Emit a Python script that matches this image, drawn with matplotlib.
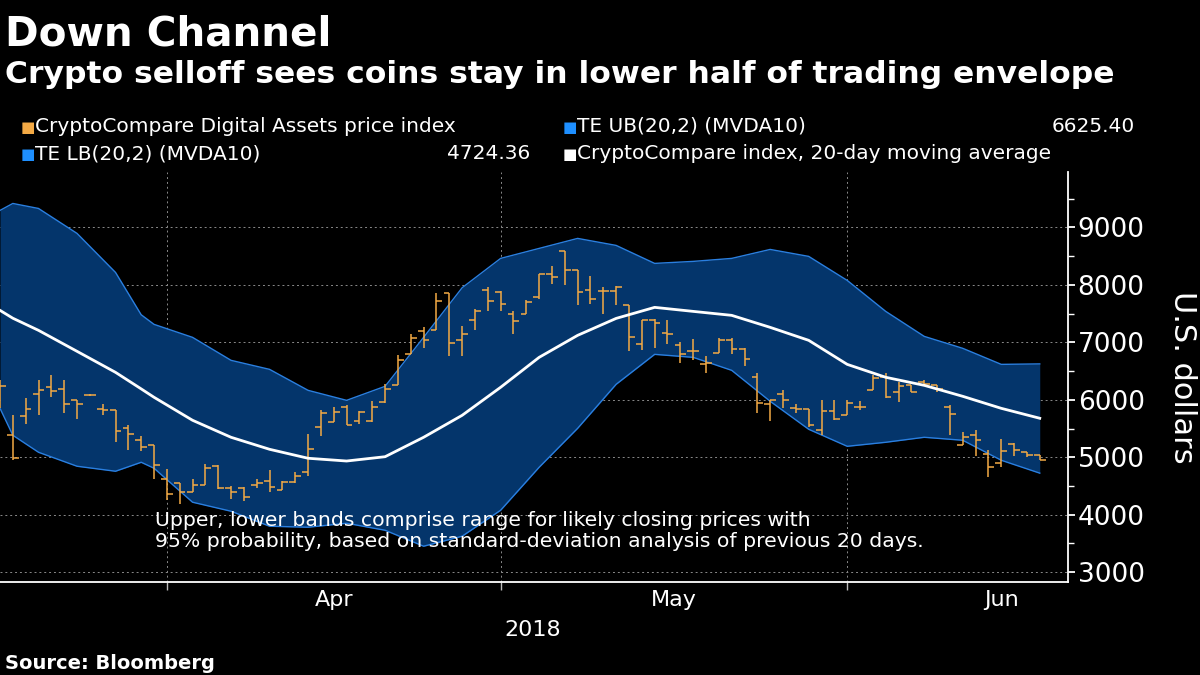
import numpy as np
import matplotlib
matplotlib.use("Agg")
from matplotlib import pyplot as plt
from matplotlib.ticker import MultipleLocator

# OHLC of the CryptoCompare index, one bar per session (bar index 0..81)
opens = [6100, 5383, 5713, 6096, 6223, 6194, 6003, 6084, 5846, 5829,
         5516, 5307, 5209, 4617, 4559, 4397, 4525, 4844, 4473, 4473,
         4513, 4588, 4438, 4565, 4745, 5527, 5614, 5875, 5626, 5626,
         5962, 6264, 6791, 7197, 7209, 7858, 7046, 7394, 7916, 7875,
         7498, 7499, 7789, 8194, 8589, 8264, 7916, 7893, 7893, 7644,
         6977, 7394, 7162, 6948, 6850, 6618, 6815, 7035, 6890, 6397,
         5934, 6108, 5864, 5847, 5470, 5806, 5731, 5876, 6177, 6398,
         6137, 6253, 6311, 6253, 5876, 5209, 5383, 5064, 4902, 5226,
         5093, 5035]
highs = [6350, 5730, 6038, 6339, 6426, 6339, 6003, 6100, 5922, 5829,
         5557, 5365, 5209, 4791, 4559, 4629, 4890, 4861, 4496, 4484,
         4629, 4785, 4588, 4745, 5400, 5817, 5875, 5904, 5806, 5980,
         6281, 6774, 7151, 7266, 7858, 7858, 7278, 7585, 7962, 7893,
         7545, 7742, 8194, 8322, 8589, 8264, 8148, 7962, 7974, 7644,
         7394, 7412, 7383, 7006, 7064, 6757, 7081, 7081, 6907, 6467,
         5991, 6177, 5934, 5847, 5992, 6003, 6003, 5980, 6427, 6467,
         6311, 6253, 6340, 6253, 5905, 5441, 5482, 5122, 5325, 5250,
         5093, 5035]
lows = [5850, 4948, 5574, 5730, 6049, 5771, 5672, 6070, 5730, 5267,
        5133, 5110, 4629, 4252, 4183, 4397, 4513, 4455, 4281, 4241,
        4467, 4397, 4426, 4554, 4669, 5371, 5614, 5556, 5585, 5614,
        5951, 6252, 6791, 6907, 7209, 6756, 6756, 7220, 7539, 7545,
        7139, 7499, 7760, 8020, 7991, 7644, 7673, 7487, 7644, 6850,
        6873, 6907, 6965, 6641, 6687, 6467, 6815, 6792, 6583, 5771,
        5632, 5864, 5771, 5528, 5383, 5655, 5731, 5818, 6177, 6038,
        5963, 6137, 6253, 6137, 5383, 5209, 5018, 4658, 4832, 5018,
        5006, 4948]
closes = [6235, 4994, 5846, 6177, 6154, 5933, 5922, 6084, 5817, 5452,
          5412, 5180, 4861, 4368, 4397, 4525, 4820, 4473, 4397, 4310,
          4554, 4484, 4571, 4675, 5151, 5771, 5788, 5556, 5788, 5875,
          6194, 6698, 7075, 7035, 7719, 6988, 7151, 7545, 7719, 7661,
          7371, 7702, 8194, 8136, 8264, 7876, 7760, 7893, 7962, 7093,
          7383, 7336, 7139, 6803, 6850, 6641, 7035, 6890, 6716, 5945,
          5991, 5991, 5847, 5557, 5806, 5673, 5945, 5876, 6386, 6050,
          6235, 6137, 6282, 6195, 5760, 5354, 5296, 4832, 5110, 5122,
          5035, 4960]

# Bollinger bands and 20-day moving average, read at these bar indices
band_idx = [0, 1, 3, 6, 9, 11, 12, 15, 18, 21, 24, 27, 30, 33, 36, 39, 42,
            45, 48, 51, 54, 57, 60, 63, 66, 69, 72, 75, 78, 81]
upper = [9296, 9417, 9330, 8896, 8217, 7480, 7313, 7087, 6687, 6530, 6165,
         5991, 6235, 7087, 7950, 8461, 8635, 8809, 8687, 8374, 8409, 8461,
         8617, 8496, 8078, 7539, 7104, 6896, 6617, 6625]
lower = [5852, 5383, 5087, 4844, 4757, 4913, 4809, 4218, 4061, 3800, 3783,
         3852, 3730, 3452, 3626, 4078, 4826, 5504, 6270, 6791, 6739, 6513,
         5974, 5487, 5191, 5261, 5348, 5296, 4948, 4724]
ma20 = [7557, 7420, 7209, 6844, 6478, 6190, 6044, 5644, 5348, 5139, 4983,
        4935, 5010, 5348, 5730, 6218, 6739, 7122, 7417, 7609, 7539, 7470,
        7261, 7035, 6617, 6392, 6252, 6061, 5852, 5679]

month_starts = [13, 39, 66]
month_labels = ['Apr', 'May', 'Jun']
month_label_pos = [26, 52.5, 78]
last_upper = '6625.40'
last_lower = '4724.36'

ORANGE = '#f4aa45'
BAND = '#04356b'
EDGE = '#2a7fe0'
SQ_BLUE = '#1e8fff'
GRID = '#8a8a8a'

fig = plt.figure(figsize=(12, 6.75), dpi=100, facecolor='black')
ax = fig.add_axes([0, 0.1378, 0.89, 0.607])
ax.set_facecolor('black')

# band
ax.fill_between(band_idx, lower, upper, color=BAND, lw=0, zorder=1)
ax.plot(band_idx, upper, color=EDGE, lw=1.0, zorder=2)
ax.plot(band_idx, lower, color=EDGE, lw=1.0, zorder=2)
ax.plot(band_idx, ma20, color='white', lw=2.0, zorder=4)

# OHLC bars
x = np.arange(len(opens))
ax.vlines(x, lows, highs, color=ORANGE, lw=1.1, zorder=3)
ax.hlines(opens, x - 0.45, x, color=ORANGE, lw=1.1, zorder=3)
ax.hlines(closes, x, x + 0.45, color=ORANGE, lw=1.1, zorder=3)

ax.set_xlim(0, 83.2)
ax.set_ylim(2830, 9960)

# grid
for v in range(3000, 10000, 1000):
    ax.axhline(v, color=GRID, lw=0.7, ls=(0, (2, 3)), zorder=0.5)
for m in month_starts:
    ax.axvline(m, color=GRID, lw=0.7, ls=(0, (2, 3)), zorder=0.5)

for s in ['top', 'left']:
    ax.spines[s].set_visible(False)
ax.spines['right'].set_color('white')
ax.spines['bottom'].set_color('white')
ax.spines['right'].set_linewidth(1.3)
ax.spines['bottom'].set_linewidth(1.3)

ax.yaxis.tick_right()
ax.yaxis.set_label_position('right')
ax.yaxis.set_major_locator(MultipleLocator(1000))
ax.yaxis.set_minor_locator(MultipleLocator(500))
ax.tick_params(axis='y', which='major', colors='white', labelsize=19,
               length=5, width=1.3, pad=2)
ax.tick_params(axis='y', which='minor', colors='white', length=4, width=1)
ax.set_ylabel('U.S. dollars', color='white', fontsize=22, rotation=270,
              labelpad=38)

ax.set_xticks(month_starts)
ax.set_xticklabels([])
ax.tick_params(axis='x', which='major', colors='#bbbbbb', length=6, width=1)
ax.set_xticks(month_label_pos, minor=True)
ax.set_xticklabels(month_labels, minor=True)
ax.tick_params(axis='x', which='minor', colors='white', labelsize=16,
               length=0, pad=6)

fig.text(533 / 1200, 1 - 630 / 675, '2018', color='white', fontsize=16,
         ha='center', va='center')

# titles
fig.text(0.004, 1 - 45 / 675, 'Down Channel', color='white', fontsize=29.2,
         fontweight='bold', va='baseline')
fig.text(0.004, 1 - 83 / 675,
         'Crypto selloff sees coins stay in lower half of trading envelope',
         color='white', fontsize=22.6, fontweight='bold', va='baseline')
fig.text(0.004, 1 - 669 / 675, 'Source: Bloomberg', color='white',
         fontsize=14, fontweight='bold', va='baseline')

# legend
def legend_item(px, py, color, label):
    fig.text(px / 1200, 1 - py / 675, '\u25a0', color=color, fontsize=11,
             va='baseline')
    fig.text((px + 14) / 1200, 1 - py / 675, label, color='white',
             fontsize=14.5, va='baseline')

legend_item(21, 132, ORANGE, 'CryptoCompare Digital Assets price index')
legend_item(563, 132, SQ_BLUE, 'TE UB(20,2) (MVDA10)')
legend_item(21, 159, SQ_BLUE, 'TE LB(20,2) (MVDA10)')
legend_item(563, 159, 'white', 'CryptoCompare index, 20-day moving average')
fig.text(1135 / 1200, 1 - 132 / 675, last_upper, color='white',
         fontsize=14.5, ha='right', va='baseline')
fig.text(530 / 1200, 1 - 159 / 675, last_lower, color='white',
         fontsize=14.5, ha='right', va='baseline')

# note
fig.text(155 / 1200, 1 - 531 / 675,
         'Upper, lower bands comprise range for likely closing prices with\n'
         '95% probability, based on standard-deviation analysis of previous 20 days.',
         color='white', fontsize=14.7, va='center', linespacing=1.1)

fig.savefig('out.png', dpi=100, facecolor='black')
